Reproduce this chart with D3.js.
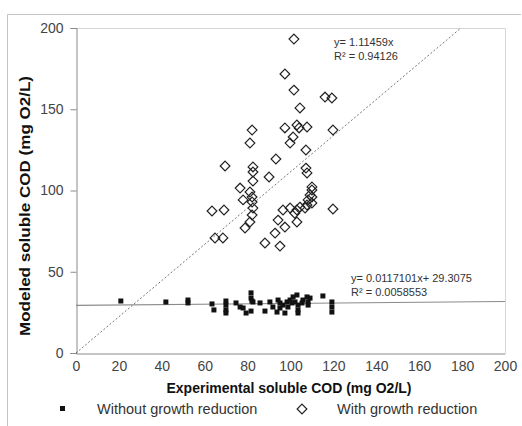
<!DOCTYPE html>
<html><head><meta charset="utf-8">
<script src="https://cdn.jsdelivr.net/npm/d3@7"></script>
<style>body{margin:0;background:#fff}svg{display:block}text{font-family:"Liberation Sans",Arial,sans-serif}</style>
</head><body><svg id="c" width="522" height="426"></svg>
<script>
// Without growth reduction (filled squares)
const withoutX = [20.9,41.9,52.2,52.2,63.4,64.3,69.9,69.9,69.9,69.9,74.6,76.5,77.9,79.3,81.6,81.6,82.0,82.5,81.6,85.8,88.1,90.4,91.8,93.7,94.2,95.1,95.1,96.5,97.4,98.4,98.8,99.8,100.7,101.2,102.1,103.0,103.5,103.5,103.5,105.4,105.8,107.7,108.2,109.1,108.2,115.1,119.3,119.3,119.3];
const withoutY = [32.0,31.4,32.6,30.8,30.2,26.5,32.0,29.5,26.5,24.6,30.8,28.3,27.7,24.6,37.0,33.8,32.0,31.4,25.8,30.8,25.8,31.4,28.3,25.2,32.6,30.8,27.7,29.5,24.6,31.4,28.3,32.6,30.8,34.5,31.4,35.7,29.5,26.5,24.6,30.8,32.6,34.5,31.4,33.8,29.5,35.1,31.4,28.3,25.2];
// With growth reduction (hollow diamonds)
const withX = [101.6,97.4,101.6,104.4,116.1,119.3,82.1,81.1,69.5,82.5,82.5,82.5,76.5,81.1,82.1,77.9,82.1,82.5,82.1,81.1,78.8,63.4,69.0,64.8,68.5,93.2,90.0,88.1,95.1,92.8,94.2,97.4,96.5,99.8,103.0,103.0,102.0,107.7,108.2,109.1,110.0,110.0,110.0,110.0,107.2,107.2,107.7,97.4,99.8,101.2,103.0,104.0,107.7,119.8,119.8,106.8,104.4];
const withY = [193.2,171.7,161.8,150.8,157.5,156.9,137.2,129.2,115.1,114.5,111.4,105.8,101.5,99.1,96.0,94.2,92.9,89.2,84.9,80.6,76.9,87.4,88.0,70.8,70.8,119.4,108.3,67.7,65.8,73.8,81.8,77.5,88.0,89.2,88.0,80.6,86.0,91.1,94.2,97.2,100.3,102.2,96.0,92.3,124.9,113.8,110.8,138.5,129.2,132.9,140.3,138.5,139.1,137.2,88.6,89.2,89.8];
const xTicks = [0,20,40,60,80,100,120,140,160,180,200];
const yTicks = [0,50,100,150,200];
const fit1 = {slope:1.11459, intercept:0, label1:"y= 1.11459x", label2:"R\u00b2 = 0.94126"};
const fit2 = {slope:0.0117101, intercept:29.3075, label1:"y= 0.0117101x+ 29.3075", label2:"R\u00b2 = 0.0058553"};

const svg = d3.select("#c");
const x = d3.scaleLinear().domain([0,200]).range([76,505]);
const y = d3.scaleLinear().domain([0,200]).range([353,28]);

// outer frame
svg.append("path").attr("d","M7.5,426 V14.5 H521").attr("fill","none").attr("stroke","#c4c4c4");
// plot area border
svg.append("path").attr("d",`M${x(0)},${y(200)+0.5} H${x(200)+0.5} V${y(0)}`).attr("fill","none").attr("stroke","#d6d6d6");

// axes
const ya = svg.append("g").attr("transform",`translate(${x(0)+0.5},0)`)
  .call(d3.axisLeft(y).tickValues(yTicks).tickSize(6).tickPadding(7));
const xa = svg.append("g").attr("transform",`translate(0,${y(0)+0.5})`)
  .call(d3.axisBottom(x).tickValues(xTicks).tickSize(0).tickPadding(8));
[ya,xa].forEach(g=>{
  g.select(".domain").attr("stroke","#8a8a8a");
  g.selectAll(".tick line").attr("stroke","#8a8a8a");
  g.selectAll("text").attr("font-size",14).attr("fill","#444").attr("font-family","Liberation Sans, Arial, sans-serif");
});

// trend lines
const xEnd1 = Math.min(200,(200-fit1.intercept)/fit1.slope);
svg.append("line").attr("x1",x(0)).attr("y1",y(fit1.intercept)).attr("x2",x(xEnd1)).attr("y2",y(fit1.intercept+fit1.slope*xEnd1))
  .attr("stroke","#555").attr("stroke-width",0.8).attr("stroke-dasharray","2,2");
svg.append("line").attr("x1",x(0)).attr("y1",y(fit2.intercept)).attr("x2",x(200)).attr("y2",y(fit2.intercept+fit2.slope*200))
  .attr("stroke","#8a8a8a").attr("stroke-width",1.1);

// squares
svg.append("g").selectAll("rect").data(withoutX.map((v,i)=>[v,withoutY[i]])).join("rect")
  .attr("x",d=>x(d[0])-2.5).attr("y",d=>y(d[1])-2.5).attr("width",5).attr("height",5).attr("fill","#111");
// diamonds
const dsym = d3.symbol().type(d3.symbolDiamond2).size(60);
svg.append("g").selectAll("path").data(withX.map((v,i)=>[v,withY[i]])).join("path")
  .attr("d",dsym).attr("transform",d=>`translate(${x(d[0])},${y(d[1])})`)
  .attr("fill","none").attr("stroke","#222").attr("stroke-width",1.2);

// equations
const eq = (t,xx,yy)=>svg.append("text").attr("x",xx).attr("y",yy).attr("font-size",11).attr("fill","#333").text(t);
eq(fit1.label1,334,46); eq(fit1.label2,334,60);
eq(fit2.label1,351,282); eq(fit2.label2,351,296);

// axis titles
svg.append("text").attr("x",289).attr("y",393).attr("text-anchor","middle").attr("font-size",14).attr("font-weight","bold").attr("fill","#111")
  .text("Experimental soluble COD (mg O2/L)");
svg.append("text").attr("transform","translate(30,206) rotate(-90)").attr("text-anchor","middle").attr("font-size",14).attr("font-weight","bold").attr("fill","#111")
  .attr("textLength",260).attr("lengthAdjust","spacingAndGlyphs")
  .text("Modeled soluble COD (mg O2/L)");

// legend
const lg = svg.append("g");
lg.append("rect").attr("x",60).attr("y",406).attr("width",5).attr("height",5).attr("fill","#111");
lg.append("text").attr("x",97).attr("y",414).attr("font-size",14.5).attr("fill","#333").text("Without growth reduction");
lg.append("path").attr("d",dsym).attr("transform","translate(302,409)").attr("fill","none").attr("stroke","#222").attr("stroke-width",1.2);
lg.append("text").attr("x",337).attr("y",414).attr("font-size",14.5).attr("fill","#333").text("With growth reduction");
</script></body></html>
